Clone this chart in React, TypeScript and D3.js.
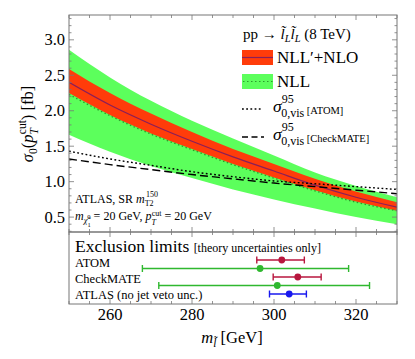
import React from 'react';
import * as d3 from 'd3';

// ---- data ----
const masses = [250, 260, 270, 280, 290, 300, 310, 320, 330];
const nloCentral = [2.40, 2.08, 1.81, 1.57, 1.35, 1.15, 0.95, 0.78, 0.64];
const nloUpper = [2.59, 2.25, 1.96, 1.70, 1.46, 1.25, 1.04, 0.86, 0.71];
const nloLower = [2.25, 1.94, 1.68, 1.46, 1.25, 1.06, 0.88, 0.72, 0.59];
const nllCentral = [2.23, 1.93, 1.67, 1.45, 1.24, 1.05, 0.87, 0.71, 0.59];
const nllUpper = [2.86, 2.47, 2.14, 1.86, 1.61, 1.37, 1.13, 0.94, 0.78];
const nllLower = [1.66, 1.42, 1.22, 1.05, 0.89, 0.75, 0.62, 0.50, 0.40];
const atomLimit = [1.43, 1.32, 1.23, 1.14, 1.07, 1.01, 0.97, 0.93, 0.89];
const checkmateLimit = [1.32, 1.24, 1.17, 1.10, 1.04, 0.98, 0.93, 0.88, 0.83];

const xTicks = [260, 280, 300, 320];
const yTicks = [0.5, 1.0, 1.5, 2.0, 2.5, 3.0];

// exclusion limits: [low, central, high]
const limitRows = ['ATOM', 'CheckMATE', 'ATLAS (no jet veto unc.)'];
const nloLimits = [[295.8, 301.9, 307.4], [299.8, 305.8, 311.5]];
const nllLimits = [[267.9, 296.6, 318.2], [271.9, 300.8, 323.3]];
const atlasLimit = [298.9, 303.7, 307.9];

// ---- layout ----
const L = 69, R = 397, T = 15, B = 232, B2 = 304;
const FONT = '"Liberation Serif", "DejaVu Serif", serif';
const GREEN = '#5cff5c';
const RED = '#ff3c0a';
const PURPLE = '#8a1f5a';
const DGREEN = '#2c9a2c';
const FRAME = '#777';
const ERR_RED = '#b8163e';
const ERR_GREEN = '#2fb82f';
const ERR_BLUE = '#1818ee';

type Seg = { t: string; s?: number; i?: boolean; o?: number; dx?: number };
const Rich = ({ x, y, segs, size, anchor, transform, fill }: any) => {
  let prev = 0;
  return (
    <text x={x} y={y} fontSize={size} fontFamily={FONT} textAnchor={anchor} transform={transform}
      fill={fill || '#000'} style={{ whiteSpace: 'pre' }}>
      {segs.map((s: Seg, k: number) => {
        const off = s.o || 0;
        const dy = off - prev;
        prev = off;
        return (
          <tspan key={k} dy={dy} dx={s.dx} fontSize={s.s} fontStyle={s.i ? 'italic' : undefined}>{s.t}</tspan>
        );
      })}
    </text>
  );
};

export default function App() {
  const x = d3.scaleLinear().domain([250, 330]).range([L, R]);
  const y = d3.scaleLinear().domain([0.29, 3.35]).range([B, T]);

  const pts = (arr: number[]) => masses.map((m, k) => [m, arr[k]] as [number, number]);
  const line = d3.line<[number, number]>().x(d => x(d[0])).y(d => y(d[1])).curve(d3.curveMonotoneX);
  const band = (lo: number[], hi: number[]) =>
    d3.area<number>().x((_, k) => x(masses[k])).y0((_, k) => y(lo[k])).y1((_, k) => y(hi[k])).curve(d3.curveMonotoneX)(masses.map((_, k) => k)) || '';

  const minorX = d3.range(250, 330.1, 5);
  const minorY = d3.range(0.3, 3.351, 0.1);

  const rowY = d3.scalePoint<number>().domain([0, 1, 2, 3, 4]).range([260, 294]);
  // rows: 0 ATOM NLO, 1 ATOM NLL, 2 CM NLO, 3 CM NLL, 4 ATLAS

  const errBar = (v: number[], yy: number, c: string, key: string) => (
    <g key={key} stroke={c} strokeWidth={1.4}>
      <line x1={x(v[0])} x2={x(v[2])} y1={yy} y2={yy} />
      <line x1={x(v[0])} x2={x(v[0])} y1={yy - 3.5} y2={yy + 3.5} />
      <line x1={x(v[2])} x2={x(v[2])} y1={yy - 3.5} y2={yy + 3.5} />
      <circle cx={x(v[1])} cy={yy} r={3.4} fill={c} stroke="none" />
    </g>
  );

  return (
    <svg width={415} height={359} style={{ position: 'absolute', left: 0, top: 0, background: '#fff' }}>
      <defs>
        <clipPath id="mainclip"><rect x={L} y={T} width={R - L} height={B - T} /></clipPath>
      </defs>
      <rect x={0} y={0} width={415} height={359} fill="#fff" />
      <g clipPath="url(#mainclip)">
        <path d={band(nllLower, nllUpper)} fill={GREEN} />
        <path d={band(nloLower, nloUpper)} fill={RED} />
        <path d={line(pts(nllCentral)) || ''} fill="none" stroke={DGREEN} strokeWidth={1.3} strokeDasharray="1.5,2.5" />
        <path d={line(pts(nloCentral)) || ''} fill="none" stroke={PURPLE} strokeWidth={1.2} />
        <path d={line(pts(atomLimit)) || ''} fill="none" stroke="#000" strokeWidth={1.4} strokeDasharray="1.8,2.4" />
        <path d={line(pts(checkmateLimit)) || ''} fill="none" stroke="#000" strokeWidth={1.4} strokeDasharray="8,4" />
      </g>

      {/* frames */}
      <rect x={L} y={T} width={R - L} height={B - T} fill="none" stroke={FRAME} strokeWidth={1} />
      <rect x={L} y={B} width={R - L} height={B2 - B} fill="none" stroke={FRAME} strokeWidth={1} />

      {/* ticks */}
      <g stroke={FRAME} strokeWidth={0.8}>
        {minorY.map((v, k) => {
          const major = Math.abs(v * 2 - Math.round(v * 2)) < 1e-6;
          const len = major ? 5 : 2.5;
          return (
            <g key={'yt' + k}>
              <line x1={L} x2={L + len} y1={y(v)} y2={y(v)} />
              <line x1={R} x2={R - len} y1={y(v)} y2={y(v)} />
            </g>
          );
        })}
        {minorX.map((v, k) => {
          const major = v % 20 === 0;
          const len = major ? 5 : 3;
          return (
            <g key={'xt' + k}>
              <line x1={x(v)} x2={x(v)} y1={T} y2={T + len} />
              <line x1={x(v)} x2={x(v)} y1={B} y2={B - len} />
              <line x1={x(v)} x2={x(v)} y1={B} y2={B + len} />
              <line x1={x(v)} x2={x(v)} y1={B2} y2={B2 - len} />
            </g>
          );
        })}
      </g>

      {/* y tick labels */}
      {yTicks.map(v => (
        <text key={'yl' + v} x={L - 4} y={y(v) + 5.5} fontSize={16.5} fontFamily={FONT} textAnchor="end">{v.toFixed(1)}</text>
      ))}
      {/* x tick labels */}
      {xTicks.map(v => (
        <text key={'xl' + v} x={x(v)} y={320} fontSize={16.5} fontFamily={FONT} textAnchor="middle">{v}</text>
      ))}

      {/* axis titles */}
      <Rich x={0} y={0} size={16.5} anchor="middle" transform={`translate(33,124) rotate(-90)`}
        segs={[
          { t: 'σ', i: true },
          { t: '0', s: 11.5, o: 4 },
          { t: '(' },
          { t: 'p', i: true },
          { t: 'T', s: 11.5, i: true, o: 4.5 },
          { t: 'cut', s: 11.5, o: -7, dx: -6 },
          { t: ') [fb]' },
        ]} />
      <Rich x={232} y={343} size={16.5} anchor="middle"
        segs={[
          { t: 'm', i: true },
          { t: 'l\u0303', s: 11.5, i: true, o: 4 },
          { t: ' [GeV]' },
        ]} />

      {/* legend */}
      <Rich x={243} y={39} size={15}
        segs={[
          { t: 'pp → ' },
          { t: 'l\u0303', i: true },
          { t: 'L', s: 10.5, i: true, o: 3 },
          { t: 'l\u0303', i: true },
          { t: 'L', s: 10.5, i: true, o: 3 },
          { t: ' (8 TeV)' },
        ]} />
      <rect x={242} y={50} width={31} height={15} fill={RED} />
      <line x1={242} x2={273} y1={57.5} y2={57.5} stroke={PURPLE} strokeWidth={1.2} />
      <text x={277} y={63} fontSize={17} fontFamily={FONT}>NLL′+NLO</text>
      <rect x={242} y={74} width={31} height={15} fill={GREEN} />
      <line x1={243} x2={273} y1={81.5} y2={81.5} stroke={DGREEN} strokeWidth={1.2} strokeDasharray="1.5,2.5" />
      <text x={277} y={87} fontSize={17} fontFamily={FONT}>NLL</text>

      <line x1={242} x2={263} y1={109} y2={109} stroke="#000" strokeWidth={1.3} strokeDasharray="1.8,2.4" />
      <Rich x={273} y={112} size={17.5}
        segs={[
          { t: 'σ', i: true },
          { t: '95', s: 12, o: -9.5 },
          { t: '0,vis', s: 12, o: 5, dx: -12.5 },
          { t: ' [ATOM]', s: 10.5, o: 2 },
        ]} />
      <line x1={242} x2={264} y1={137} y2={137} stroke="#000" strokeWidth={1.4} strokeDasharray="6,3.5" />
      <Rich x={273} y={140} size={17.5}
        segs={[
          { t: 'σ', i: true },
          { t: '95', s: 12, o: -9.5 },
          { t: '0,vis', s: 12, o: 5, dx: -12.5 },
          { t: ' [CheckMATE]', s: 10.5, o: 2 },
        ]} />

      {/* in-plot annotations */}
      <Rich x={75} y={202.5} size={12}
        segs={[
          { t: 'ATLAS, SR ' },
          { t: 'm', i: true },
          { t: 'T2', s: 8, o: 3.5 },
          { t: '150', s: 8, o: -5.5, dx: -7.5 },
        ]} />
      <Rich x={75} y={220} size={12}
        segs={[
          { t: 'm', i: true },
          { t: 'χ\u0303', s: 8.5, i: true, o: 3 },
          { t: '1', s: 6.5, o: 6.5 },
          { t: '0', s: 6.5, o: -1.5, dx: -3.3 },
          { t: ' = 20 GeV, ' },
          { t: 'p', i: true },
          { t: 'T', s: 8, i: true, o: 4.5 },
          { t: 'cut', s: 8, o: -4.5, dx: -4.3 },
          { t: ' = 20 GeV' },
        ]} />

      {/* lower panel */}
      <text x={75} y={252} fontSize={17.5} fontFamily={FONT} style={{ whiteSpace: 'pre' }}>
        Exclusion limits <tspan fontSize={12}>[theory uncertainties only]</tspan>
      </text>
      <text x={75} y={267} fontSize={12.5} fontFamily={FONT}>{limitRows[0]}</text>
      <text x={75} y={283} fontSize={12.5} fontFamily={FONT}>{limitRows[1]}</text>
      <text x={75} y={299} fontSize={12.5} fontFamily={FONT}>{limitRows[2]}</text>

      {errBar(nloLimits[0], rowY(0)!, ERR_RED, 'a1')}
      {errBar(nllLimits[0], rowY(1)!, ERR_GREEN, 'a2')}
      {errBar(nloLimits[1], rowY(2)!, ERR_RED, 'c1')}
      {errBar(nllLimits[1], rowY(3)!, ERR_GREEN, 'c2')}
      {errBar(atlasLimit, rowY(4)!, ERR_BLUE, 'b1')}
    </svg>
  );
}
